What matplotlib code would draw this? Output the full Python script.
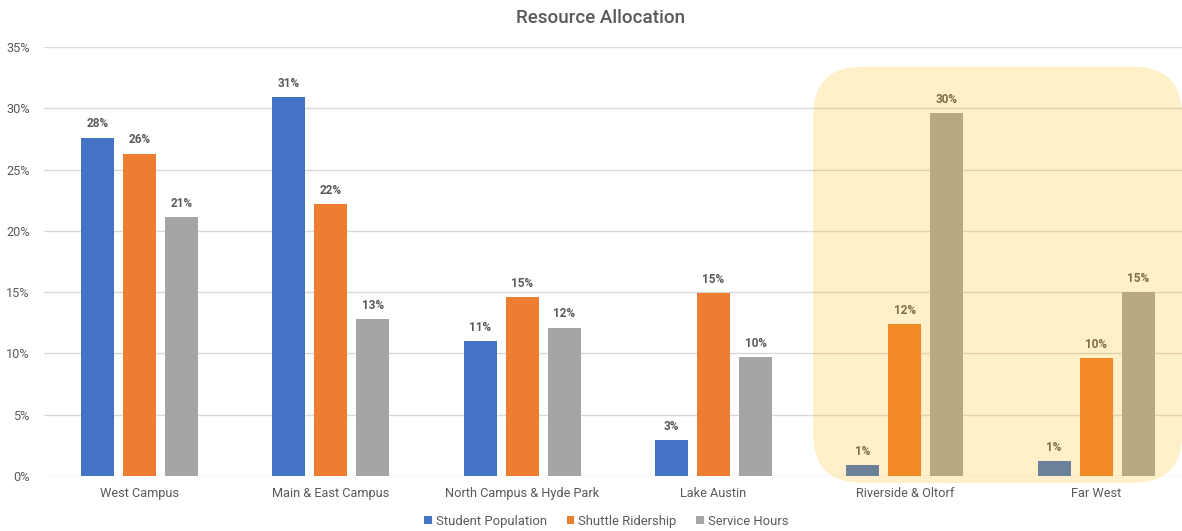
import matplotlib.pyplot as plt
import numpy as np
from matplotlib.patches import FancyBboxPatch
from matplotlib.ticker import FuncFormatter

plt.rcParams['font.family'] = ['Roboto', 'DejaVu Sans']

categories = ["West Campus", "Main & East Campus", "North Campus & Hyde Park",
              "Lake Austin", "Riverside & Oltorf", "Far West"]
student_population = [27.6, 30.9, 11.0, 2.9, 0.9, 1.2]
shuttle_ridership = [26.3, 22.2, 14.6, 14.9, 12.4, 9.6]
service_hours = [21.1, 12.8, 12.1, 9.7, 29.6, 15.0]
series_names = ["Student Population", "Shuttle Ridership", "Service Hours"]
highlight = ["Riverside & Oltorf", "Far West"]

colors = ["#4472C4", "#ED7D31", "#A5A5A5"]
text_col = "#595959"

fig = plt.figure(figsize=(11.82, 5.31), dpi=100)
ax = fig.add_axes([43.8 / 1182, 55 / 531, 1148 / 1182, 429 / 531])

x = np.arange(len(categories))
width = 0.1725
step = 0.22
for i, (vals, name) in enumerate(zip([student_population, shuttle_ridership, service_hours], series_names)):
    bars = ax.bar(x + (i - 1) * step, vals, width, color=colors[i], label=name, zorder=3)
    for b, v in zip(bars, vals):
        ax.text(b.get_x() + b.get_width() / 2, v + 0.6, f"{round(v):.0f}%",
                ha='center', va='bottom', fontsize=8.5, fontweight='bold', color=text_col, zorder=4)

ax.set_xlim(-0.5, len(categories) - 0.5)
ax.set_ylim(0, 35)
ax.set_yticks(np.arange(0, 36, 5))
ax.yaxis.set_major_formatter(FuncFormatter(lambda v, p: f"{v:.0f}%"))
ax.set_xticks(x)
ax.set_xticklabels(categories)
ax.grid(axis='y', color='#D9D9D9', linewidth=1, zorder=0)
ax.set_axisbelow(True)
for s in ax.spines.values():
    s.set_visible(False)
ax.tick_params(length=0, colors=text_col, labelsize=9.2, pad=8)
ax.tick_params(axis='y', pad=10)

# the axes run past the right edge, so centre the title on the picture
fig.text(601 / 1182, 1 - 18 / 531, "Resource Allocation", fontsize=13.5,
         fontweight='medium', color=text_col, ha='center', va='center')

# highlight box over the last two regions, rounded in pixel space
fig.canvas.draw()
i0 = categories.index(highlight[0])
i1 = categories.index(highlight[-1])
(px0, py0) = ax.transData.transform((i0 - 0.48, -0.57))
(px1, py1) = ax.transData.transform((i1 + 0.45, 33.4))
inv = fig.dpi_scale_trans.inverted()
(ix0, iy0) = inv.transform((px0, py0))
(ix1, iy1) = inv.transform((px1, py1))
box = FancyBboxPatch((ix0, iy0), ix1 - ix0, iy1 - iy0,
                     boxstyle="round,pad=0,rounding_size=0.5",
                     transform=fig.dpi_scale_trans, facecolor=(1.0, 0.725, 0.0),
                     alpha=0.21, edgecolor='none', zorder=10, clip_on=False)
ax.add_artist(box)

fig.legend(loc='lower center', ncol=3, frameon=False, fontsize=9.4,
           handlelength=0.6, handleheight=0.6, handletextpad=0.3, columnspacing=1.5,
           bbox_to_anchor=(0.513, -0.016), labelcolor=text_col)

fig.savefig("out.png", dpi=100)
